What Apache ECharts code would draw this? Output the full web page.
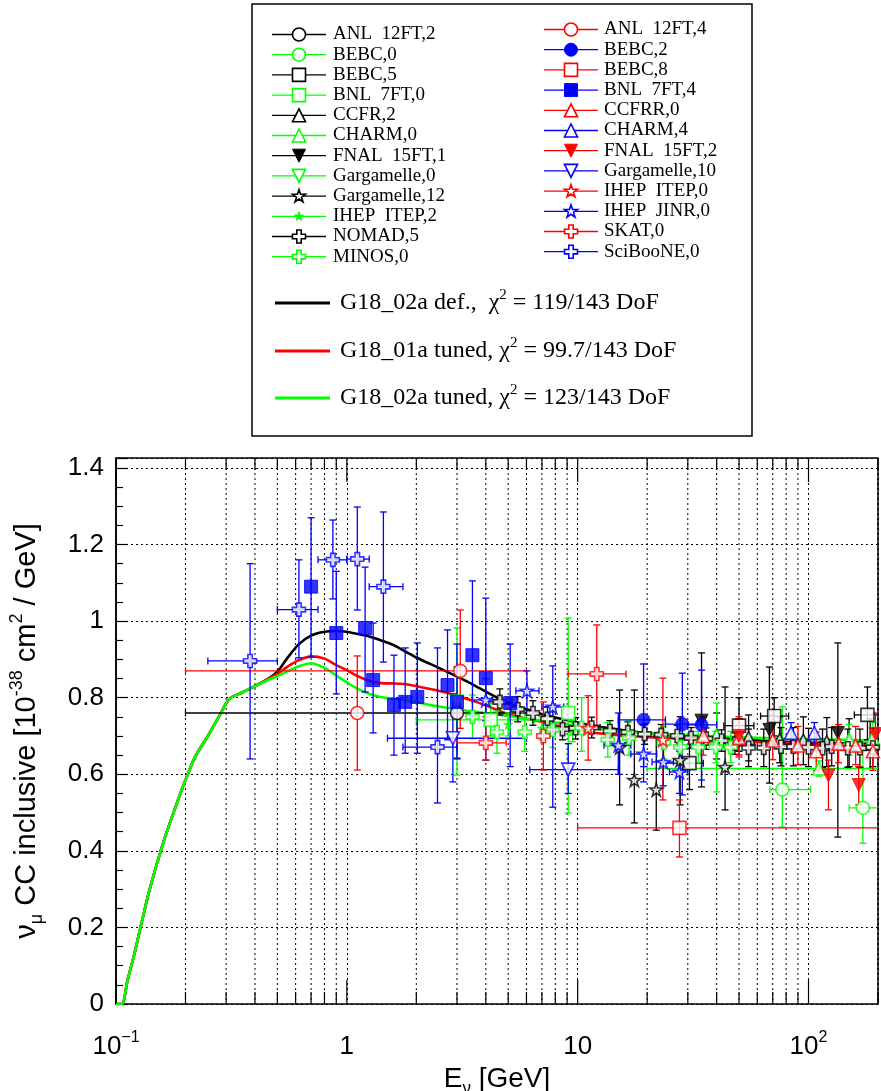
<!DOCTYPE html>
<html>
<head>
<meta charset="utf-8">
<script src="https://cdn.jsdelivr.net/npm/echarts@6/dist/echarts.min.js"></script>
<style>html,body{margin:0;padding:0;background:#fff}#chart{width:881px;height:1091px}</style>
</head>
<body>
<div id="chart"></div>
<script>
// model curves: x = E (GeV), y = sigma/E
var E_CURVE = [0.1, 0.106, 0.112, 0.12, 0.13, 0.14, 0.16, 0.18, 0.2, 0.22, 0.25, 0.28, 0.31, 0.35, 0.4, 0.45,
  0.5, 0.55, 0.62, 0.7, 0.8, 0.9, 1.0, 1.1, 1.25, 1.4, 1.6, 1.8, 2.0, 2.5, 3.0, 3.5, 4.0, 5.0, 6.0, 7.0, 8.0,
  10, 12, 15, 20, 25, 30, 40, 50, 70, 100, 140, 200];
var G18_02A_DEF = [0, 0, 0.06, 0.13, 0.22, 0.30, 0.42, 0.51, 0.585, 0.645, 0.70, 0.752, 0.797, 0.813, 0.83, 0.847,
  0.868, 0.902, 0.94, 0.962, 0.972, 0.974, 0.972, 0.967, 0.96, 0.95, 0.937, 0.92, 0.905, 0.878, 0.855, 0.835, 0.816, 0.785, 0.77, 0.757, 0.748,
  0.735, 0.725, 0.717, 0.707, 0.702, 0.698, 0.693, 0.69, 0.686, 0.683, 0.681, 0.679];
var G18_01A_TUNED = [0, 0, 0.06, 0.13, 0.22, 0.30, 0.42, 0.51, 0.585, 0.645, 0.70, 0.752, 0.797, 0.813, 0.83, 0.847,
  0.862, 0.88, 0.898, 0.908, 0.902, 0.885, 0.872, 0.858, 0.844, 0.838, 0.837, 0.835, 0.83, 0.818, 0.805, 0.792, 0.78, 0.757, 0.745, 0.737, 0.728,
  0.716, 0.708, 0.702, 0.697, 0.694, 0.692, 0.689, 0.686, 0.683, 0.68, 0.677, 0.674];
var G18_02A_TUNED = [0, 0, 0.06, 0.13, 0.22, 0.30, 0.42, 0.51, 0.585, 0.645, 0.70, 0.752, 0.797, 0.813, 0.83, 0.845,
  0.856, 0.868, 0.882, 0.89, 0.878, 0.858, 0.84, 0.825, 0.81, 0.802, 0.797, 0.793, 0.788, 0.777, 0.77, 0.764, 0.76, 0.752, 0.745, 0.74, 0.735,
  0.726, 0.72, 0.713, 0.707, 0.704, 0.702, 0.699, 0.697, 0.694, 0.692, 0.69, 0.688];

// data points: [E, y, yLo, yHi] or [E, y, yLo, yHi, ELo, EHi]
var ANL_12FT_2 = [[3.0, 0.76, 0.642, 0.88, 0.2, 6.0]];
var BEBC_0 = [[77, 0.56, 0.462, 0.776, 68, 102], [172, 0.512, 0.42, 0.69, 150, 250]];
var BEBC_5 = [[30.5, 0.629, 0.56, 0.70, 23, 35], [50, 0.727, 0.66, 0.80, 43, 58], [71, 0.752, 0.70, 0.80, 62, 82],
  [180, 0.755, 0.69, 0.828, 158, 210]];
var BNL_7FT_0 = [[4.2, 0.742, 0.70, 0.785, 2.0, 6.5], [9.1, 0.76, 0.499, 1.008]];
var CCFR_2 = [[40, 0.70, 0.64, 0.76], [55, 0.695, 0.635, 0.755], [75, 0.69, 0.63, 0.75], [95, 0.688, 0.625, 0.75],
  [120, 0.684, 0.62, 0.748], [150, 0.682, 0.62, 0.745], [185, 0.68, 0.615, 0.745]];
var CHARM_0 = [[40, 0.70, 0.554, 0.786], [111, 0.615, 0.595, 0.635, 20, 250], [150, 0.69, 0.65, 0.73], [190, 0.695, 0.655, 0.735]];
var FNAL_15FT_1 = [[34.4, 0.74, 0.567, 0.917], [67.7, 0.716, 0.577, 0.88], [134, 0.708, 0.436, 0.943]];
var GARGAMELLE_0 = [[3.0, 0.79, 0.598, 0.982]];
var GARGAMELLE_12 = [[15.2, 0.67, 0.52, 0.82], [17.6, 0.585, 0.473, 0.82], [21.9, 0.56, 0.454, 0.70],
  [27.8, 0.637, 0.52, 0.75], [43.5, 0.619, 0.507, 0.828]];
var IHEP_ITEP_2 = [[5.0, 0.73, 0.70, 0.76], [7.0, 0.72, 0.69, 0.75], [9.5, 0.712, 0.685, 0.74]];
var NOMAD_5 = [[4.6, 0.789, 0.755, 0.823, 4.0, 5.2], [5.5, 0.770, 0.737, 0.803], [6.4, 0.760, 0.728, 0.792],
  [7.4, 0.745, 0.714, 0.776], [8.6, 0.718, 0.690, 0.746, 8.0, 9.2], [9.8, 0.720, 0.692, 0.748],
  [11.5, 0.722, 0.695, 0.749, 10.5, 12.5], [13.8, 0.713, 0.686, 0.740], [16.5, 0.710, 0.683, 0.737],
  [19.5, 0.705, 0.678, 0.732], [23, 0.703, 0.676, 0.730], [27, 0.700, 0.672, 0.728], [31, 0.695, 0.668, 0.722],
  [36, 0.693, 0.665, 0.721], [42, 0.688, 0.660, 0.716], [48, 0.680, 0.652, 0.708], [55, 0.669, 0.62, 0.718],
  [64, 0.669, 0.62, 0.718], [76, 0.672, 0.622, 0.722], [86, 0.672, 0.622, 0.722], [100, 0.670, 0.62, 0.72],
  [115, 0.668, 0.618, 0.718], [126, 0.672, 0.622, 0.722], [148, 0.668, 0.618, 0.718], [167, 0.668, 0.618, 0.718],
  [190, 0.670, 0.62, 0.72]];
var MINOS_0 = [[3.5, 0.750, 0.693, 0.807], [4.47, 0.710, 0.655, 0.765], [5.9, 0.710, 0.66, 0.76], [7.8, 0.716, 0.67, 0.762],
  [10.4, 0.721, 0.66, 0.80], [13.5, 0.690, 0.645, 0.735], [16.7, 0.695, 0.65, 0.74], [23.6, 0.682, 0.64, 0.724],
  [27.8, 0.671, 0.63, 0.712], [33.3, 0.671, 0.63, 0.712], [39.7, 0.671, 0.63, 0.712], [46, 0.671, 0.63, 0.712]];
var ANL_12FT_4 = [[1.11, 0.76, 0.611, 0.909], [3.1, 0.87, 0.72, 1.029, 0.2, 6.0]];
var BEBC_2 = [[19.3, 0.742, 0.62, 0.888, 15, 24], [28.4, 0.731, 0.546, 0.864, 24, 33], [34.4, 0.729, 0.585, 0.872, 30, 40]];
var BEBC_8 = [[27.6, 0.46, 0.384, 0.533, 10, 250]];
var BNL_7FT_4 = [[0.70, 1.09, 0.906, 1.27], [0.90, 0.969, 0.81, 1.13], [1.20, 0.982, 0.815, 1.141], [1.30, 0.846, 0.708, 0.995],
  [1.60, 0.781, 0.65, 0.911], [1.79, 0.789, 0.655, 0.93], [2.02, 0.802, 0.655, 0.943], [2.73, 0.833, 0.69, 0.977],
  [3.0, 0.789, 0.64, 0.94], [3.5, 0.911, 0.75, 1.105], [4.0, 0.851, 0.637, 1.06], [5.1, 0.786, 0.62, 0.94]];
var CCFRR_0 = [[35, 0.70, 0.65, 0.75], [50, 0.695, 0.645, 0.745], [70, 0.688, 0.638, 0.738], [90, 0.675, 0.625, 0.725],
  [108, 0.66, 0.61, 0.71], [135, 0.68, 0.63, 0.73], [160, 0.675, 0.625, 0.725], [190, 0.66, 0.61, 0.71]];
var CHARM_4 = [[84, 0.708, 0.68, 0.735], [106, 0.708, 0.68, 0.735]];
var FNAL_15FT_2 = [[50, 0.70, 0.65, 0.75], [122, 0.597, 0.507, 0.637], [165, 0.572, 0.52, 0.62], [195, 0.705, 0.65, 0.76]];
var GARGAMELLE_10 = [[2.88, 0.694, 0.58, 0.81, 1.5, 6.0], [9.1, 0.612, 0.55, 0.68, 6.2, 15]];
var IHEP_ITEP_0 = [[11.1, 0.72, 0.637, 0.805], [23.4, 0.69, 0.533, 0.851]];
var IHEP_JINR_0 = [[4.0, 0.794, 0.74, 0.85, 3.5, 4.6], [6.03, 0.818, 0.76, 0.87, 5.4, 6.8], [7.8, 0.776, 0.514, 0.883, 7.0, 8.7],
  [15, 0.676, 0.60, 0.76, 13, 17], [19.3, 0.653, 0.58, 0.73, 17, 22], [23.5, 0.632, 0.57, 0.70, 21, 26], [27.6, 0.606, 0.55, 0.66, 25, 30]];
var SKAT_0 = [[4.0, 0.682, 0.637, 0.75, 3.0, 4.9], [7.1, 0.70, 0.611, 0.789], [12.1, 0.862, 0.721, 0.99, 9.1, 16.2]];
var SCIBOONE_0 = [[0.381, 0.896, 0.64, 1.15, 0.25, 0.5], [0.62, 1.03, 0.904, 1.16, 0.5, 0.75], [0.87, 1.16, 1.058, 1.264, 0.75, 1.0],
  [1.11, 1.162, 1.029, 1.298, 1.0, 1.25], [1.44, 1.09, 0.893, 1.285, 1.25, 1.75], [2.47, 0.671, 0.525, 0.93, 1.75, 3.0]];

// axis ticks
var X_DECADES = [0.1, 1, 10, 100];
var X_MINOR = [0.2, 0.3, 0.4, 0.5, 0.6, 0.7, 0.8, 0.9, 2, 3, 4, 5, 6, 7, 8, 9, 20, 30, 40, 50, 60, 70, 80, 90, 200];

var BLACK = '#000000', RED = '#ff0000', GREEN = '#00ff00', BLUE = '#0000ff';
var SANS = '"Liberation Sans", Arial, sans-serif';
var SERIF = '"Liberation Serif", "Times New Roman", serif';

// marker outlines in a 10x10 box
var SYM = {
  square: [[0, 0], [10, 0], [10, 10], [0, 10]],
  triUp: [[5, 0], [10, 10], [0, 10]],
  triDown: [[0, 0], [10, 0], [5, 10]],
  star: [[5, 0], [6.18, 3.62], [10, 3.62], [6.91, 5.86], [8.09, 9.51], [5, 7.27], [1.91, 9.51], [3.09, 5.86], [0, 3.62], [3.82, 3.62]],
  cross: [[3.3, 0], [6.7, 0], [6.7, 3.3], [10, 3.3], [10, 6.7], [6.7, 6.7], [6.7, 10], [3.3, 10], [3.3, 6.7], [0, 6.7], [0, 3.3], [3.3, 3.3]]
};

var SETS = [
  { name: 'ANL  12FT,2', data: ANL_12FT_2, color: BLACK, shape: 'circle', fill: false, col: 0 },
  { name: 'BEBC,0', data: BEBC_0, color: GREEN, shape: 'circle', fill: false, col: 0 },
  { name: 'BEBC,5', data: BEBC_5, color: BLACK, shape: 'square', fill: false, col: 0 },
  { name: 'BNL  7FT,0', data: BNL_7FT_0, color: GREEN, shape: 'square', fill: false, col: 0 },
  { name: 'CCFR,2', data: CCFR_2, color: BLACK, shape: 'triUp', fill: false, col: 0 },
  { name: 'CHARM,0', data: CHARM_0, color: GREEN, shape: 'triUp', fill: false, col: 0 },
  { name: 'FNAL  15FT,1', data: FNAL_15FT_1, color: BLACK, shape: 'triDown', fill: true, col: 0 },
  { name: 'Gargamelle,0', data: GARGAMELLE_0, color: GREEN, shape: 'triDown', fill: false, col: 0 },
  { name: 'Gargamelle,12', data: GARGAMELLE_12, color: BLACK, shape: 'star', fill: false, col: 0 },
  { name: 'IHEP  ITEP,2', data: IHEP_ITEP_2, color: GREEN, shape: 'star', fill: true, col: 0, size: 9 },
  { name: 'NOMAD,5', data: NOMAD_5, color: BLACK, shape: 'cross', fill: false, col: 0 },
  { name: 'MINOS,0', data: MINOS_0, color: GREEN, shape: 'cross', fill: false, col: 0 },
  { name: 'ANL  12FT,4', data: ANL_12FT_4, color: RED, shape: 'circle', fill: false, col: 1 },
  { name: 'BEBC,2', data: BEBC_2, color: BLUE, shape: 'circle', fill: true, col: 1 },
  { name: 'BEBC,8', data: BEBC_8, color: RED, shape: 'square', fill: false, col: 1 },
  { name: 'BNL  7FT,4', data: BNL_7FT_4, color: BLUE, shape: 'square', fill: true, col: 1 },
  { name: 'CCFRR,0', data: CCFRR_0, color: RED, shape: 'triUp', fill: false, col: 1 },
  { name: 'CHARM,4', data: CHARM_4, color: BLUE, shape: 'triUp', fill: false, col: 1 },
  { name: 'FNAL  15FT,2', data: FNAL_15FT_2, color: RED, shape: 'triDown', fill: true, col: 1 },
  { name: 'Gargamelle,10', data: GARGAMELLE_10, color: BLUE, shape: 'triDown', fill: false, col: 1 },
  { name: 'IHEP  ITEP,0', data: IHEP_ITEP_0, color: RED, shape: 'star', fill: false, col: 1 },
  { name: 'IHEP  JINR,0', data: IHEP_JINR_0, color: BLUE, shape: 'star', fill: false, col: 1 },
  { name: 'SKAT,0', data: SKAT_0, color: RED, shape: 'cross', fill: false, col: 1 },
  { name: 'SciBooNE,0', data: SCIBOONE_0, color: BLUE, shape: 'cross', fill: false, col: 1 }
];

var MODELS = [
  { label: 'G18_02a def.,  χ{sup|2} = 119/143 DoF', values: G18_02A_DEF, color: BLACK },
  { label: 'G18_01a tuned, χ{sup|2} = 99.7/143 DoF', values: G18_01A_TUNED, color: RED },
  { label: 'G18_02a tuned, χ{sup|2} = 123/143 DoF', values: G18_02A_TUNED, color: GREEN }
];

function scatterSymbol(shape) {
  if (shape === 'circle') return 'circle';
  return 'path://' + SYM[shape].map(function (p, i) { return (i ? 'L' : 'M') + p[0] + ',' + p[1]; }).join('') + 'Z';
}

function errorRenderer(color) {
  return function (params, api) {
    var x = api.value(0), y = api.value(1);
    var yl = api.value(2), yh = api.value(3), xl = api.value(4), xh = api.value(5);
    var p = api.coord([x, y]);
    var st = { stroke: color, lineWidth: 1.3 };
    var cap = 3.5;
    var kids = [];
    function seg(x1, y1, x2, y2) {
      kids.push({ type: 'line', shape: { x1: x1, y1: y1, x2: x2, y2: y2 }, style: st });
    }
    if (yl !== yh) {
      var a = api.coord([x, yl])[1], b = api.coord([x, yh])[1];
      seg(p[0], a, p[0], b);
      seg(p[0] - cap, a, p[0] + cap, a);
      seg(p[0] - cap, b, p[0] + cap, b);
    }
    if (xl !== xh) {
      var l = api.coord([xl, y])[0], r = api.coord([xh, y])[0];
      seg(l, p[1], r, p[1]);
      seg(l, p[1] - cap, l, p[1] + cap);
      seg(r, p[1] - cap, r, p[1] + cap);
    }
    return { type: 'group', children: kids };
  };
}

function gridRenderer(params, api) {
  var cs = params.coordSys;
  var x = api.coord([api.value(0), 0.5])[0];
  var major = api.value(1) === 1;
  var len = major ? 24 : 12;
  var top = cs.y, bot = cs.y + cs.height;
  var kids = [
    { type: 'line', shape: { x1: x, y1: top, x2: x, y2: top + len }, style: { stroke: '#000', lineWidth: 1.2 } },
    { type: 'line', shape: { x1: x, y1: bot, x2: x, y2: bot - len }, style: { stroke: '#000', lineWidth: 1.2 } }
  ];
  if (!major) {
    kids.unshift({ type: 'line', shape: { x1: x, y1: top, x2: x, y2: bot }, style: { stroke: '#000', lineWidth: 1, lineDash: [2, 3] } });
  }
  return { type: 'group', children: kids };
}

var series = [];

series.push({
  type: 'custom', silent: true, z: 1, clip: false,
  data: X_MINOR.map(function (v) { return [v, 0]; }).concat(X_DECADES.map(function (v) { return [v, 1]; })),
  renderItem: gridRenderer
});

MODELS.forEach(function (m) {
  series.push({
    type: 'line', silent: true, z: 2, showSymbol: false, smooth: 0.3,
    data: E_CURVE.map(function (e, i) { return [e, m.values[i]]; }),
    lineStyle: { color: m.color, width: 2.6 }
  });
});

SETS.forEach(function (s) {
  var rows = s.data.map(function (d) { return d.length > 4 ? d : [d[0], d[1], d[2], d[3], d[0], d[0]]; });
  series.push({
    type: 'custom', silent: true, z: 3, clip: true,
    data: rows,
    renderItem: errorRenderer(s.color)
  });
  series.push({
    type: 'scatter', silent: true, z: 3,
    data: s.data.map(function (d) { return [d[0], d[1]]; }),
    symbol: scatterSymbol(s.shape),
    symbolSize: s.size || 13,
    itemStyle: s.fill ? { color: s.color, borderColor: s.color, borderWidth: 1 }
                      : { color: '#ffffff', borderColor: s.color, borderWidth: 1.6 }
  });
});

// legend box
var graphics = [];
graphics.push({ type: 'rect', shape: { x: 252, y: 4, width: 500, height: 432 }, style: { fill: '#fff', stroke: '#000', lineWidth: 1.5 } });

function glyph(s, cx, cy, size) {
  var style = s.fill ? { fill: s.color, stroke: s.color, lineWidth: 1 } : { fill: '#fff', stroke: s.color, lineWidth: 1.6 };
  if (s.shape === 'circle') return { type: 'circle', shape: { cx: cx, cy: cy, r: size / 2 }, style: style };
  var pts = SYM[s.shape].map(function (p) { return [cx - size / 2 + p[0] * size / 10, cy - size / 2 + p[1] * size / 10]; });
  return { type: 'polygon', shape: { points: pts }, style: style };
}

var COLS = [
  { x1: 272, x2: 326, mx: 299, tx: 333, y0: 34.5 },
  { x1: 544, x2: 598, mx: 571, tx: 604, y0: 29.5 }
];
var ROW_STEP = 20.2;
var rowIdx = [0, 0];
SETS.forEach(function (s) {
  var c = COLS[s.col];
  var y = c.y0 + ROW_STEP * rowIdx[s.col]++;
  graphics.push({ type: 'line', shape: { x1: c.x1, y1: y, x2: c.x2, y2: y }, style: { stroke: s.color, lineWidth: 1.3 } });
  graphics.push(glyph(s, c.mx, y, s.size ? 9 : 13));
  graphics.push({
    type: 'text', x: c.tx, y: y,
    style: { text: s.name, font: '19px ' + SERIF, fill: '#000', verticalAlign: 'middle', textVerticalAlign: 'middle' }
  });
});

var MODEL_ROWS = [303, 351, 398];
MODELS.forEach(function (m, i) {
  var y = MODEL_ROWS[i];
  graphics.push({ type: 'line', shape: { x1: 275, y1: y, x2: 330, y2: y }, style: { stroke: m.color, lineWidth: 3 } });
  graphics.push({
    type: 'text', x: 340, y: y,
    style: {
      text: '{t|' + m.label.replace('{sup|2}', '}{sup|2}{t|') + '}',
      verticalAlign: 'middle', textVerticalAlign: 'middle', fill: '#000',
      rich: {
        t: { fontFamily: SERIF, fontSize: 24, lineHeight: 30, fill: '#000', color: '#000' },
        sup: { fontFamily: SERIF, fontSize: 15, lineHeight: 12, verticalAlign: 'top', fill: '#000', color: '#000' }
      }
    }
  });
});

var chart = echarts.init(document.getElementById('chart'), null, { renderer: 'canvas' });
chart.setOption({
  animation: false,
  backgroundColor: '#ffffff',
  grid: { left: 116, right: 3, top: 458, bottom: 87, show: true, borderColor: '#000', borderWidth: 1.5,
    containLabel: false, outerBoundsMode: 'none' },
  xAxis: {
    type: 'log', logBase: 10, min: 0.1, max: 200,
    axisLine: { show: false },
    axisTick: { show: false },
    splitLine: { show: true, lineStyle: { color: '#000', width: 1, type: [2, 3] } },
    axisLabel: {
      margin: 26, color: '#000',
      formatter: function (v) {
        var lg = Math.log10(v), p = Math.round(lg);
        if (Math.abs(lg - p) > 1e-6) return '';
        if (p === 0) return '{b|1}';
        if (p === 1) return '{b|10}';
        return '{b|10}{s|' + (p < 0 ? '−' : '') + Math.abs(p) + '}';
      },
      rich: {
        b: { fontFamily: SANS, fontSize: 26, lineHeight: 34, color: '#000' },
        s: { fontFamily: SANS, fontSize: 16, lineHeight: 14, verticalAlign: 'top', color: '#000' }
      }
    },
    name: '{t|E}{sub|ν}{t| [GeV]}', nameLocation: 'middle', nameGap: 52,
    nameTextStyle: {
      rich: {
        t: { fontFamily: SANS, fontSize: 28, lineHeight: 36, color: '#000' },
        sub: { fontFamily: SANS, fontSize: 17, lineHeight: 16, verticalAlign: 'bottom', color: '#000' }
      }
    }
  },
  yAxis: {
    type: 'value', min: 0, max: 1.426, interval: 0.2,
    axisLine: { show: true, lineStyle: { color: '#000', width: 1.5 } },
    axisTick: { show: true, inside: true, length: 12, lineStyle: { color: '#000', width: 1.2 } },
    minorTick: { show: true, splitNumber: 4, length: 7, lineStyle: { color: '#000', width: 1.2 } },
    splitLine: { show: true, lineStyle: { color: '#000', width: 1, type: [2, 3] } },
    axisLabel: {
      margin: 12, color: '#000', fontFamily: SANS, fontSize: 26,
      formatter: function (v) {
        var k = v / 0.2;
        if (Math.abs(k - Math.round(k)) > 1e-6) return '';
        return String(+v.toFixed(1));
      }
    },
    name: '{t|ν}{sub|μ}{t| CC inclusive [10}{sup|-38}{t| cm}{sup|2}{t| / GeV]}',
    nameLocation: 'middle', nameRotate: 90, nameGap: 70,
    nameTextStyle: {
      rich: {
        t: { fontFamily: SANS, fontSize: 29, lineHeight: 38, color: '#000' },
        sub: { fontFamily: SANS, fontSize: 18, lineHeight: 16, verticalAlign: 'bottom', color: '#000' },
        sup: { fontFamily: SANS, fontSize: 18, lineHeight: 16, verticalAlign: 'top', color: '#000' }
      }
    }
  },
  graphic: { elements: graphics },
  series: series
});
</script>
</body>
</html>
